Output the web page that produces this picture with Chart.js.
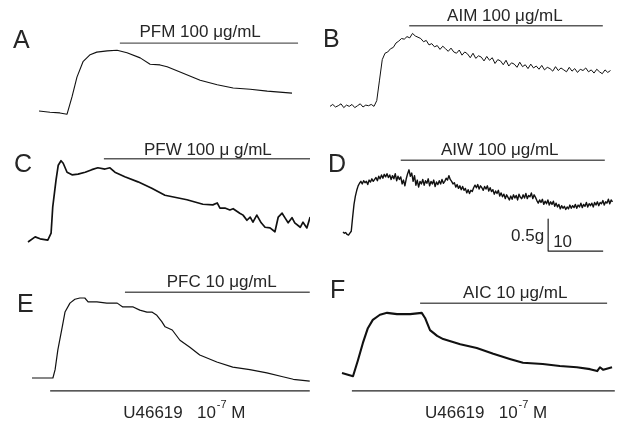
<!DOCTYPE html>
<html><head><meta charset="utf-8">
<script src="https://cdn.jsdelivr.net/npm/chart.js@4"></script>
<style>
html,body{margin:0;padding:0;background:#fff;}
#wrap{position:relative;width:620px;height:421px;overflow:hidden;background:#fff;}
#wrap canvas{position:absolute;}
</style></head><body><div id="wrap"></div>
<script>
// ---------------- DATA (time in min, tension in g above baseline) ----------------
const panelLetters = ['A','B','C','D','E','F'];
const drugLabels = ['PFM 100 \u03bcg/mL','AIM 100 \u03bcg/mL','PFW 100 \u03bc g/mL','AIW 100 \u03bcg/mL','PFC 10 \u03bcg/mL','AIC 10 \u03bcg/mL'];
const agonistName = 'U46619';
const agonistExp = '-7';

// drug application periods [start, end] (min)
const A_drug = [14.7, 47.1];
const B_drug = [14.4, 49.6];
const C_drug = [13.8, 51.3];
const D_drug = [10.5, 47.6];
const E_drug = [16.9, 50.5];
const F_drug = [14.2, 48.2];
// agonist periods (E, F)
const E_agonist = [3.3, 50.5];
const F_agonist = [1.8, 49.6];
// scale bar: 0.5 g, 10 min
const scaleBarG = 0.5;
const scaleBarMin = 10;

const A_time = [0,2.0,3.8,5.1,6.0,6.9,8.0,9.3,10.5,12.4,14.2,16.0,18.4,20.2,22.0,23.3,26.2,29.3,32.4,35.3,38.4,41.5,46.0];
const A_tension = [0,-0.02,-0.03,-0.05,0.22,0.53,0.77,0.88,0.92,0.94,0.95,0.91,0.83,0.73,0.72,0.69,0.59,0.48,0.41,0.36,0.34,0.31,0.28];

const B_step = 0.5;
const B_tension = [0.01,0.04,0.00,0.02,0.05,-0.01,0.03,0.01,0.04,-0.01,0.02,0.05,0.00,0.03,0.02,0.04,0.01,
0.10,0.42,0.74,0.84,0.86,0.91,0.93,1.00,1.03,1.07,1.06,1.10,1.08,1.15,1.11,1.09,1.07,1.02,1.04,0.97,0.99,0.94,0.96,
0.90,0.95,0.91,0.87,0.92,0.86,0.84,0.89,0.81,0.86,0.83,0.77,0.84,0.76,0.80,0.78,0.72,0.79,0.73,0.77,
0.68,0.74,0.72,0.66,0.73,0.64,0.69,0.67,0.62,0.70,0.63,0.66,0.60,0.67,0.61,0.64,0.59,0.65,0.58,0.62,
0.60,0.56,0.63,0.57,0.61,0.58,0.55,0.62,0.56,0.60,0.54,0.59,0.57,0.61,0.55,0.58,0.53,0.59,0.55,0.52,
0.58,0.54,0.57];

const C_time = [0,1.3,2.2,3.6,4.2,4.5,5.1,5.5,6.0,6.4,7.1,8.0,9.1,10.4,11.6,12.7,14.0,14.9,15.8,17.6,20.0,22.5,24.9,28.9,31.8,33.6,34.4,34.9,35.8,36.7,37.3,38.5,39.1,39.8,40.4,40.9,41.6,42.4,43.1,44.0,44.9,45.5,46.2,46.7,47.3,48.0,48.5,49.5,50.0,50.7,51.3];
const C_tension = [0,0.08,0.05,0.03,0.14,0.55,0.97,1.20,1.27,1.23,1.09,1.05,1.06,1.09,1.13,1.16,1.14,1.16,1.09,1.02,0.94,0.84,0.73,0.66,0.59,0.58,0.61,0.53,0.53,0.50,0.52,0.45,0.42,0.34,0.39,0.31,0.42,0.30,0.23,0.22,0.16,0.39,0.45,0.38,0.30,0.38,0.30,0.23,0.31,0.22,0.39];

const D_step = 0.25;
const D_tension = [
-0.03,-0.05,-0.04,-0.07,-0.08,-0.05,-0.02,0.20,
0.40,0.53,0.62,0.69,0.73,0.76,0.72,0.77,
0.74,0.76,0.71,0.78,0.75,0.80,0.76,0.79,
0.82,0.77,0.84,0.80,0.86,0.81,0.87,0.83,
0.88,0.82,0.86,0.79,0.85,0.80,0.88,0.77,
0.84,0.79,0.83,0.72,0.78,0.69,0.80,0.88,
0.94,0.84,0.89,0.76,0.85,0.70,0.78,0.67,
0.76,0.72,0.79,0.70,0.77,0.73,0.80,0.69,
0.76,0.72,0.78,0.68,0.75,0.71,0.77,0.72,
0.79,0.73,0.76,0.81,0.78,0.85,0.79,0.76,
0.72,0.74,0.67,0.71,0.65,0.69,0.63,0.68,
0.62,0.65,0.58,0.63,0.57,0.62,0.60,0.66,
0.70,0.66,0.71,0.64,0.69,0.66,0.62,0.68,
0.64,0.69,0.61,0.66,0.60,0.63,0.56,0.61,
0.57,0.62,0.53,0.58,0.52,0.56,0.49,0.55,
0.51,0.47,0.53,0.48,0.55,0.50,0.54,0.47,
0.56,0.51,0.49,0.55,0.50,0.57,0.49,0.54,
0.52,0.58,0.49,0.55,0.51,0.46,0.42,0.47,
0.43,0.48,0.40,0.45,0.41,0.47,0.39,0.44,
0.40,0.45,0.37,0.42,0.36,0.40,0.33,0.38,
0.34,0.37,0.32,0.36,0.33,0.39,0.34,0.38,
0.35,0.40,0.34,0.39,0.36,0.42,0.35,0.40,
0.37,0.43,0.36,0.41,0.38,0.42,0.36,0.43,
0.39,0.44,0.38,0.43,0.41,0.46,0.39,0.44,
0.42,0.48,0.41,0.47,0.44];

const E_time = [0,3.8,4.2,4.7,5.5,6.0,6.9,7.8,8.7,9.6,10.2,11.8,13.6,15.5,16.5,18.4,19.6,20.9,21.8,22.7,23.6,24.2,25.5,26.9,28.7,30.5,33.6,36.5,39.6,42.7,45.6,47.5,50.5];
const E_tension = [0,0,0.13,0.44,0.80,1.03,1.17,1.23,1.25,1.25,1.19,1.19,1.17,1.17,1.11,1.11,1.06,1.03,1.03,0.98,0.88,0.80,0.75,0.59,0.48,0.36,0.25,0.17,0.13,0.08,0.02,-0.02,-0.05];

const F_time = [0,2.0,2.9,3.8,4.7,5.6,6.9,8.2,10.0,12.4,14.5,15.1,16.0,17.3,18.4,21.5,24.5,27.5,30.5,32.9,36.5,39.6,42.7,45.1,46.4,46.9,47.5,49.1];
const F_tension = [0,-0.05,0.20,0.47,0.70,0.83,0.91,0.94,0.92,0.92,0.94,0.86,0.67,0.58,0.53,0.45,0.39,0.30,0.22,0.16,0.14,0.11,0.09,0.06,0.03,0.09,0.05,0.09];

// ---------------- LAYOUT / STYLE ----------------
const PX_PER_MIN = 5.5, PX_PER_G = 64;
const FONT = '"Liberation Sans", Arial, Helvetica, sans-serif';
const uniform = (arr, step) => arr.map((v, i) => ({x: i * step, y: v}));
const paired = (t, g) => t.map((v, i) => ({x: v, y: g[i]}));

const panels = [
  {left:0,   top:0,   w:310, h:130, ox:39,  base:111, pts:paired(A_time,A_tension), lw:1.1, drug:A_drug, drugG:1.06, lab:{t:29.3,g:1.16}, letter:{x:13,y:48}},
  {left:310, top:0,   w:310, h:130, ox:330, base:107, pts:uniform(B_tension,B_step), lw:1.0, drug:B_drug, drugG:1.27, lab:{t:31.8,g:1.34}, letter:{x:13,y:47}},
  {left:0,   top:130, w:310, h:130, ox:28,  base:242, pts:paired(C_time,C_tension), lw:1.7, drug:C_drug, drugG:1.30, lab:{t:32.7,g:1.36}, letter:{x:14,y:42}},
  {left:310, top:130, w:310, h:130, ox:343, base:230, pts:uniform(D_tension,D_step), lw:1.4, drug:D_drug, drugG:1.09, lab:{t:28.5,g:1.17}, letter:{x:18,y:42},
     scale:{t:37.3, g:0.17}},
  {left:0,   top:260, w:310, h:161, ox:32,  base:378, pts:paired(E_time,E_tension), lw:1.2, drug:E_drug, drugG:1.34, lab:{t:34.5,g:1.42}, letter:{x:17,y:52},
     ago:E_agonist, agoG:-0.20, agoLab:{t:27.7,g:-0.625}},
  {left:310, top:260, w:310, h:161, ox:342, base:373, pts:paired(F_time,F_tension), lw:2.1, drug:F_drug, drugG:1.09, lab:{t:31.5,g:1.17}, letter:{x:20,y:38},
     ago:F_agonist, agoG:-0.28, agoLab:{t:26.2,g:-0.70}}
];

const wrap = document.getElementById('wrap');

panels.forEach((p, idx) => {
  const c = document.createElement('canvas');
  c.width = p.w; c.height = p.h;
  c.style.left = p.left + 'px'; c.style.top = p.top + 'px';
  c.style.width = p.w + 'px'; c.style.height = p.h + 'px';
  wrap.appendChild(c);

  const line = (data, color, width) => ({data, borderColor: color, borderWidth: width, pointRadius: 0,
    tension: 0, fill: false, borderJoinStyle: 'round', borderCapStyle: 'butt', clip: false});

  const datasets = [
    line(p.pts, '#111', p.lw),
    line([{x:p.drug[0], y:p.drugG}, {x:p.drug[1], y:p.drugG}], '#5a5a5a', 1.4)
  ];
  if (p.ago) datasets.push(line([{x:p.ago[0], y:p.agoG}, {x:p.ago[1], y:p.agoG}], '#222', 1.3));
  if (p.scale) datasets.push(line([{x:p.scale.t, y:p.scale.g}, {x:p.scale.t, y:p.scale.g - scaleBarG},
                                   {x:p.scale.t + scaleBarMin, y:p.scale.g - scaleBarG}], '#222', 1.2));

  const annot = {
    id: 'annot' + idx,
    afterDatasetsDraw(chart) {
      const ctx = chart.ctx, xs = chart.scales.x, ys = chart.scales.y;
      ctx.save();
      ctx.fillStyle = '#262626';
      ctx.textBaseline = 'alphabetic';
      ctx.font = '25px ' + FONT; ctx.textAlign = 'left';
      ctx.fillText(panelLetters[idx], p.letter.x, p.letter.y);
      ctx.font = '17px ' + FONT; ctx.textAlign = 'center';
      ctx.fillText(drugLabels[idx], xs.getPixelForValue(p.lab.t), ys.getPixelForValue(p.lab.g));
      if (p.scale) {
        const sy = ys.getPixelForValue(p.scale.g - scaleBarG);
        const sx = xs.getPixelForValue(p.scale.t);
        ctx.font = '17px ' + FONT;
        ctx.textAlign = 'right';
        ctx.fillText(scaleBarG + 'g', sx - 4, sy - 10);
        ctx.textAlign = 'left';
        ctx.fillText(String(scaleBarMin), sx + 5, sy - 4);
      }
      if (p.ago) {
        const main = agonistName + '   10', tail = ' M';
        ctx.font = '17px ' + FONT;
        const w1 = ctx.measureText(main).width, w3 = ctx.measureText(tail).width;
        ctx.font = '11px ' + FONT;
        const w2 = ctx.measureText(agonistExp).width + 1;
        const cx = xs.getPixelForValue(p.agoLab.t), by = ys.getPixelForValue(p.agoLab.g);
        const x0 = cx - (w1 + w2 + w3) / 2;
        ctx.textAlign = 'left';
        ctx.font = '17px ' + FONT; ctx.fillText(main, x0, by);
        ctx.font = '11px ' + FONT; ctx.fillText(agonistExp, x0 + w1 + 1, by - 10);
        ctx.font = '17px ' + FONT; ctx.fillText(tail, x0 + w1 + w2, by);
      }
      ctx.restore();
    }
  };

  new Chart(c, {
    type: 'line',
    data: {datasets},
    options: {
      responsive: false, animation: false, events: [],
      layout: {padding: 0},
      plugins: {legend: {display: false}, tooltip: {enabled: false}, title: {display: false}},
      scales: {
        x: {type: 'linear', display: false,
            min: (p.left - p.ox) / PX_PER_MIN, max: (p.left + p.w - p.ox) / PX_PER_MIN},
        y: {type: 'linear', display: false,
            min: (p.base - p.top - p.h) / PX_PER_G, max: (p.base - p.top) / PX_PER_G}
      }
    },
    plugins: [annot]
  });
});
</script>
</body></html>
